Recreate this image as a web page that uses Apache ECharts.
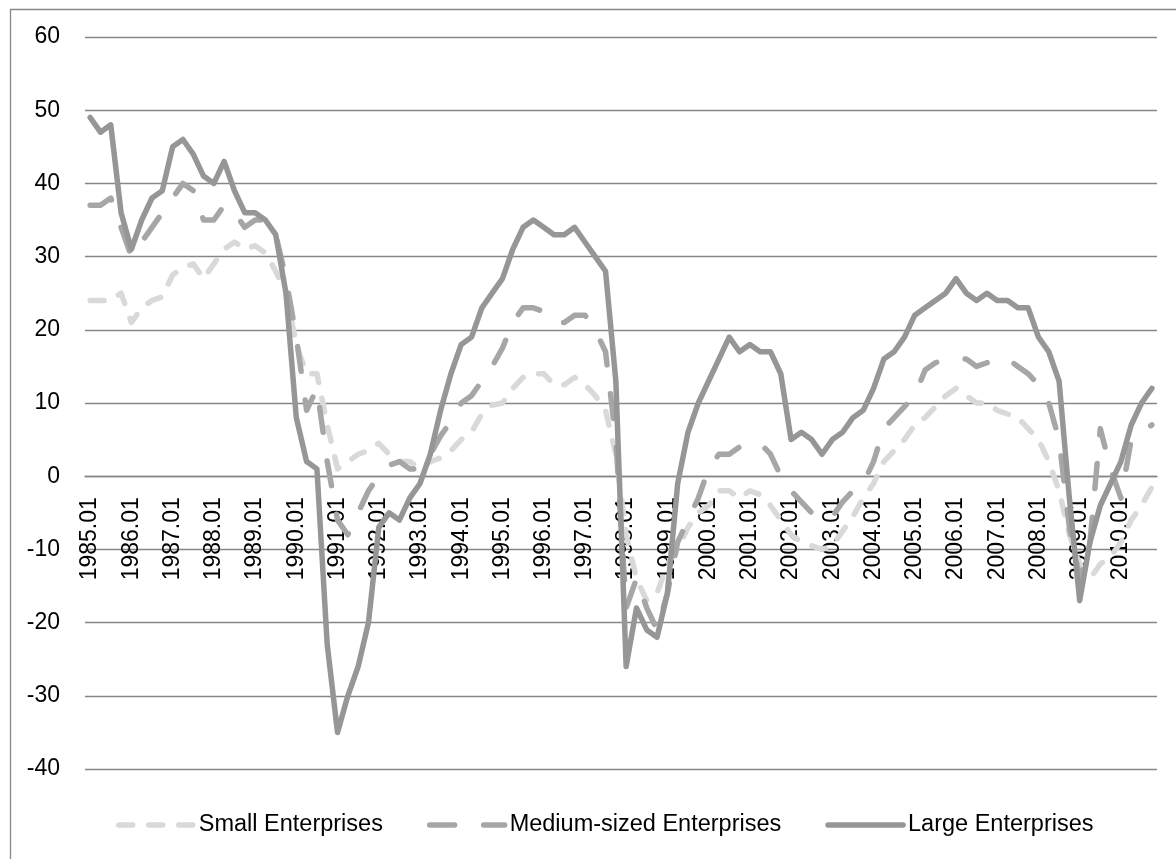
<!DOCTYPE html>
<html>
<head>
<meta charset="utf-8">
<script src="https://cdn.jsdelivr.net/npm/echarts@6/dist/echarts.min.js"></script>
<style>
html,body{margin:0;padding:0;background:#fff;}
#chart{width:1176px;height:859px;}
</style>
</head>
<body>
<div id="chart"></div>
<script>
// Quarterly categories 1985.01 ... 2010.04
const years = [];
for (let y = 1985; y <= 2010; y++) years.push(y);
const quarters = ["01", "02", "03", "04"];
const categories = [];
years.forEach(y => quarters.forEach(q => categories.push(y + "." + q)));

const yTicks = [-40, -30, -20, -10, 0, 10, 20, 30, 40, 50, 60];

const seriesNames = ["Small Enterprises", "Medium-sized Enterprises", "Large Enterprises"];

const small = [
  24, 24, 24, 25,   21, 23, 24, 24.5,   27.5, 28.5, 29, 27,   29, 31, 32, 31,
  31.5, 30.5, 28, 25,   18, 14, 14, 7,   1, 2, 3, 3.5,   4.5, 3, 2, 2,
  1, 2, 2.5, 3.5,   5, 6, 8.5, 9.7,   10, 12, 13.5, 14,   14, 12.5, 12.5, 13.5,
  12.5, 11, 9, 3,   -8, -14, -17, -16,   -12, -10, -7, -5,   -4, -2, -2, -3,
  -2, -2.5, -4, -6,   -8, -9, -9.5, -10,   -9.5, -7.5, -5.5, -3,   -1, 2, 3.5, 5,
  7, 8, 9.5, 11,   12, 11, 10, 10,   9, 8.5, 8, 6.5,   5, 2, -2, -8,
  -12, -14, -12, -11,   -9, -6, -4, -1.5
];

const medium = [
  37, 37, 38, 34,   30, 32, 34, 36,   38, 40, 39, 35,   35, 37, 36, 34,
  35, 35, 33, 27,   19, 9, 12, 2,   -6, -8, -5, -2,   0, 1.5, 2, 1,
  1, 3, 5.5, 7.5,   10, 11, 13, 15,   17.5, 21, 23, 23,   22.5, 21, 21, 22,
  22, 20, 17, 5,   -18, -14, -18, -21,   -16, -9, -6, -3,   1, 3, 3, 4,
  4.3, 4.5, 3, 0,   -2, -3.5, -5, -6,   -5.5, -3.5, -2, -1,   2, 6.5, 8, 9.5,
  11, 14.5, 15.5, 16,   16, 16, 15, 15.5,   16, 16, 15, 14,   12.5, 10, 5, -7,
  -14, -9, 6.5, 1,   -3, 5, 6, 7
];

const large = [
  49, 47, 48, 36,   31, 35, 38, 39,   45, 46, 44, 41,   40, 43, 39, 36,
  36, 35, 33, 25,   8, 2, 1, -23,   -35, -30, -26, -20,   -7, -5, -6, -3,
  -1, 3, 9, 14,   18, 19, 23, 25,   27, 31, 34, 35,   34, 33, 33, 34,
  32, 30, 28, 13,   -26, -18, -21, -22,   -16, -1, 6, 10,   13, 16, 19, 17,
  18, 17, 17, 14,   5, 6, 5, 3,   5, 6, 8, 9,   12, 16, 17, 19,
  22, 23, 24, 25,   27, 25, 24, 25,   24, 24, 23, 23,   19, 17, 13, -3,
  -17, -9, -4, -1,   2, 7, 10, 12
];

const FONT = '"Liberation Sans", Arial, sans-serif';
const GRID = {left: 85, right: 19, top: 37, bottom: 90};
const PLOT_H = 859 - GRID.top - GRID.bottom;
const Y_MIN = yTicks[0], Y_MAX = yTicks[yTicks.length - 1];
const zeroOffset = PLOT_H * (0 - Y_MIN) / (Y_MAX - Y_MIN);

const chart = echarts.init(document.getElementById('chart'), null, {renderer: 'canvas'});

function lineSeries(name, data, color, dash, z) {
  return {
    name: name,
    type: 'line',
    data: data,
    symbol: 'none',
    showSymbol: false,
    smooth: false,
    animation: false,
    z: z,
    itemStyle: {color: color},
    lineStyle: {color: color, width: 5.5, type: dash, cap: 'round', join: 'round'}
  };
}

chart.setOption({
  animation: false,
  backgroundColor: '#ffffff',
  graphic: [{
    type: 'rect', left: 8, top: 7, silent: true, z: -10,
    shape: {x: 0, y: 0, width: 1300, height: 1000},
    style: {fill: 'none', stroke: '#898989', lineWidth: 1.3}
  }],
  grid: {left: GRID.left, right: GRID.right, top: GRID.top, bottom: GRID.bottom, containLabel: false, outerBoundsMode: 'none'},
  legend: {
    data: seriesNames,
    left: 111,
    top: 808,
    itemWidth: 75,
    itemHeight: 14,
    itemGap: 44,
    textStyle: {fontFamily: FONT, fontSize: 23.5, color: '#000'},
    itemStyle: {opacity: 0, borderWidth: 0},
    lineStyle: {width: 5.5, cap: 'round'}
  },
  xAxis: {
    type: 'category',
    data: categories,
    boundaryGap: true,
    position: 'bottom',
    offset: -zeroOffset,
    axisLine: {show: true, onZero: false, lineStyle: {color: '#868686', width: 1.3}},
    axisTick: {show: false},
    splitLine: {show: false},
    axisLabel: {
      interval: 3,
      rotate: 90,
      margin: 21,
      fontFamily: FONT,
      fontSize: 23,
      color: '#000',
      hideOverlap: false
    }
  },
  yAxis: {
    type: 'value',
    min: Y_MIN,
    max: Y_MAX,
    interval: 10,
    axisLine: {show: false},
    axisTick: {show: false},
    splitLine: {show: true, lineStyle: {color: '#868686', width: 1.3}},
    axisLabel: {
      margin: 25,
      fontFamily: FONT,
      fontSize: 23,
      color: '#000'
    }
  },
  series: [
    lineSeries(seriesNames[0], small, '#d9d9d9', [14, 16], 3),
    lineSeries(seriesNames[1], medium, '#a6a6a6', [25, 29], 4),
    lineSeries(seriesNames[2], large, '#969696', 'solid', 5)
  ]
});
</script>
</body>
</html>
